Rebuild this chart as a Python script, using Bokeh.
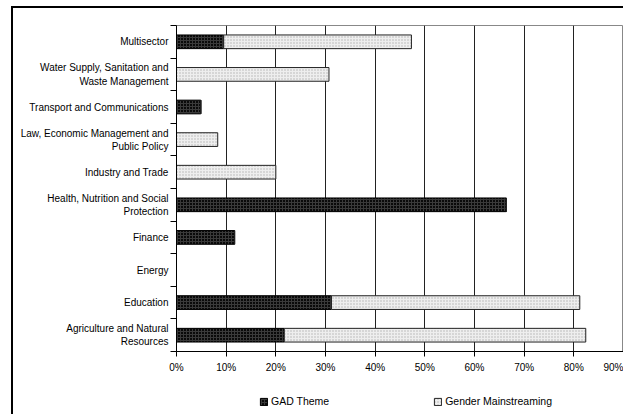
from bokeh.plotting import figure
from bokeh.layouts import column
from bokeh.models import Range1d, FixedTicker, ColumnDataSource, Legend, LegendItem
from bokeh.embed import file_html
from bokeh.resources import INLINE

# Sectors, listed top to bottom as drawn
sectors = [
    "Multisector",
    "Water Supply, Sanitation and\nWaste Management",
    "Transport and Communications",
    "Law, Economic Management and\nPublic Policy",
    "Industry and Trade",
    "Health, Nutrition and Social\nProtection",
    "Finance",
    "Energy",
    "Education",
    "Agriculture and Natural\nResources",
]
# Share of loans (%) per sector
gad_theme = [9.5, 0, 4.9, 0, 0, 66.4, 11.7, 0, 31.2, 21.7]
gender_mainstreaming = [37.8, 30.7, 0, 8.3, 20.0, 0, 0, 0, 50.0, 60.7]

series_names = ["GAD Theme", "Gender Mainstreaming"]

x_ticks = [0, 10, 20, 30, 40, 50, 60, 70, 80, 90]
x_tick_labels = ["0%", "10%", "20%", "30%", "40%", "50%", "60%", "70%", "80%", "90%"]

FONT = "Liberation Sans"

GAD_STYLE = dict(fill_color="#0a0a0a", line_color="black", line_width=1,
                 hatch_pattern="cross", hatch_color="#3a3a3a", hatch_scale=3,
                 hatch_weight=1)
GM_STYLE = dict(fill_color="#eeeeee", line_color="#222222", line_width=1,
                hatch_pattern="dot", hatch_color="#b0b0b0", hatch_scale=3,
                hatch_weight=1)

n = len(sectors)
centers = [i + 0.5 for i in range(n)]
gm_right = [a + b for a, b in zip(gad_theme, gender_mainstreaming)]

src = ColumnDataSource(dict(y=centers, gad_l=[0] * n, gad_r=list(gad_theme),
                            gm_l=list(gad_theme), gm_r=gm_right))

# Main bar chart
p = figure(width=610, height=367, output_backend="svg", toolbar_location=None,
           x_range=Range1d(0, 90), y_range=Range1d(n, 0),
           min_border_left=163, min_border_right=0, min_border_top=17,
           min_border_bottom=22)
p.background_fill_color = "white"
p.border_fill_color = "white"
p.outline_line_color = "#888888"
p.outline_line_width = 1

# Grid: vertical lines at every 10%
p.ygrid.grid_line_color = None
p.xgrid.ticker = FixedTicker(ticks=x_ticks)
p.xgrid.grid_line_color = "#222222"
p.xgrid.grid_line_width = 1

# Bottom axis
xa = p.xaxis[0]
xa.ticker = FixedTicker(ticks=x_ticks)
xa.major_label_overrides = {t: lab for t, lab in zip(x_ticks, x_tick_labels)}
xa.axis_line_color = "black"
xa.major_tick_line_color = "black"
xa.major_tick_out = 5
xa.major_tick_in = 0
xa.minor_tick_line_color = None
xa.major_label_standoff = 5
xa.major_label_text_font = FONT
xa.major_label_text_font_size = "10px"
xa.major_label_text_color = "black"

# Left axis: labels at category centers, tick marks between categories
ya = p.yaxis[0]
ya.ticker = FixedTicker(ticks=centers, minor_ticks=list(range(n + 1)))
ya.major_label_overrides = {c: s for c, s in zip(centers, sectors)}
ya.axis_line_color = "black"
ya.major_tick_line_color = None
ya.major_tick_out = 0
ya.major_tick_in = 0
ya.minor_tick_line_color = "black"
ya.minor_tick_out = 6
ya.minor_tick_in = 0
ya.major_label_standoff = 2
ya.major_label_text_font = FONT
ya.major_label_text_font_size = "10px"
ya.major_label_text_color = "black"

bar_h = 0.42
p.hbar(y="y", left="gad_l", right="gad_r", height=bar_h, source=src, **GAD_STYLE)
p.hbar(y="y", left="gm_l", right="gm_r", height=bar_h, source=src, **GM_STYLE)

# Legend strip under the chart; its swatch renderers sit outside the visible range
lg = figure(width=610, height=39, output_backend="svg", toolbar_location=None,
            x_range=Range1d(0, 1), y_range=Range1d(0, 1),
            min_border=0, outline_line_color=None)
lg.axis.visible = False
lg.grid.visible = False
lg.border_fill_color = "white"
swatch = ColumnDataSource(dict(y=[-10], l=[0], r=[1]))
leg_gad = lg.hbar(y="y", left="l", right="r", height=0.5, source=swatch, **GAD_STYLE)
leg_gm = lg.hbar(y="y", left="l", right="r", height=0.5, source=swatch, **GM_STYLE)

legend = Legend(items=[LegendItem(label=series_names[0], renderers=[leg_gad]),
                       LegendItem(label=series_names[1], renderers=[leg_gm])],
                orientation="horizontal", location=(83, 7),
                spacing=104, padding=0, margin=0, label_standoff=3,
                glyph_width=9, glyph_height=9,
                label_text_font=FONT, label_text_font_size="10.5px",
                label_text_color="black", label_height=10,
                border_line_color=None, background_fill_alpha=0)
lg.add_layout(legend, "center")

# Outer box: left and top edges drawn as CSS borders
layout = column(p, lg, spacing=0)
layout.margin = (6, 0, 0, 11)
layout.styles = {"border-left": "2px solid black", "border-top": "2px solid black"}

open("out.html", "w").write(file_html(layout, INLINE))
